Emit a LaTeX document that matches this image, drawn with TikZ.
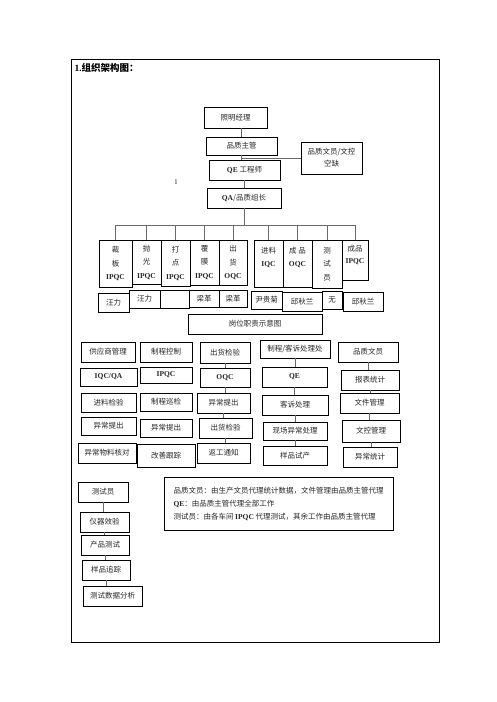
\documentclass[tikz,border=0pt]{standalone}
\usepackage{fontspec}
\setmainfont{Noto Sans CJK SC}
\newfontfamily\latinfont{Liberation Serif}
\newcommand{\en}[1]{{\latinfont\bfseries #1}}
\usepackage{tikz}
\usetikzlibrary{calc}
\definecolor{linegray}{RGB}{105, 105, 105}

\begin{document}
\begin{tikzpicture}[x=1pt, y=-1pt,
    box/.style={draw, line width=0.8pt, inner sep=0pt, align=center, text=black!85, font=\fontsize{7.5}{13.5}\selectfont},
    boxsize/.style 2 args={minimum width=#1pt, minimum height=#2pt},
    link/.style={draw=linegray, line width=0.9pt}]
    \useasboundingbox (0,0) rectangle (496,702);

    % Frame and title
    \draw[line width=0.9pt] (71,59) rectangle (439,642);
    \node[anchor=west, font=\fontsize{9.5}{11}\selectfont\bfseries] (title) at (71,68) {\en{1.}组织架构图：};

    % Management chain
    \node[box, boxsize={63}{21}] (mgr) at (235.5,117.5) {照明经理};
    \node[box, boxsize={71}{18}] (sup) at (241.5,146) {品质主管};
    \node[box, boxsize={61}{32}, font=\fontsize{7.5}{12}\selectfont] (clerk) at (331.5,158) {品质文员/文控\\空缺};
    \node[box, boxsize={71}{20}] (qe) at (244.5,170) {\en{QE} 工程师};
    \node[box, boxsize={74}{20}] (qa) at (244,198) {\en{QA}/品质组长};
    \node[font=\fontsize{7}{8}\selectfont] (tick) at (176,182) {\latinfont l};
    \draw[link] (sup.north) -- (sup.north |- mgr.south);
    \draw[link] (sup.south) -- (sup.south |- qe.north);
    \draw[link] (clerk.west) -- (clerk.west -| sup.south);
    \draw[link] (qe.south) -- (qe.south |- qa.north);

    % Stations
    \node[box, boxsize={33}{47}] (cut) at (115.5,263.5) {裁\\板\\\en{IPQC}};
    \node[box, boxsize={29}{44}] (pol) at (146.5,262) {抛\\光\\\en{IPQC}};
    \node[box, boxsize={29}{46}] (dot) at (175.5,263) {打\\点\\\en{IPQC}};
    \node[box, boxsize={29}{45}] (film) at (204.5,262.5) {覆\\膜\\\en{IPQC}};
    \node[box, boxsize={28}{45}] (ship) at (233,262.5) {出\\货\\\en{OQC}};
    \node[box, boxsize={29}{47}] (iqc) at (268.5,263.5) {进料\\\en{IQC}\\\mbox{}};
    \node[box, boxsize={29}{47}] (fqc) at (297.5,263.5) {成 品\\\en{OQC}\\\mbox{}};
    \node[box, boxsize={30}{48}] (tst) at (327,264) {测\\试\\员};
    \node[box, boxsize={26}{40}, font=\fontsize{7.5}{12}\selectfont] (fip) at (355,260) {成品\\\en{IPQC}\\\mbox{}};
    \coordinate (bus) at (244,225);
    \draw[link] (qa.south) -- (qa.south |- bus);
    \draw[link] (cut.north |- bus) -- (fip.north |- bus);
    \foreach \n in {cut,pol,dot,film,ship,iqc,fqc,tst,fip}
        \draw[link] (\n.north |- bus) -- (\n.north);

    % Names
    \node[box, boxsize={31}{19}] (n1) at (113.5,302.5) {汪力};
    \node[box, boxsize={31}{18}] (n2) at (144.5,299) {汪力};
    \node[box, boxsize={29}{18}] (n3) at (174.5,299) {};
    \node[box, boxsize={30}{17}] (n4) at (204,298.5) {梁革};
    \node[box, boxsize={28}{17}] (n5) at (233,298.5) {梁革};
    \node[box, boxsize={31}{18}] (n6) at (266.5,300) {尹贵菊};
    \node[box, boxsize={40}{19}] (n7) at (302,301.5) {邱秋兰};
    \node[box, boxsize={20}{18}] (n8) at (332,300) {无};
    \node[box, boxsize={40}{19}] (n9) at (363,301.5) {邱秋兰};
    \node[box, boxsize={134}{20}] (cap) at (255,324) {岗位职责示意图};

    % Duties
    \node[box, boxsize={54}{20}] (s1) at (108,352) {供应商管理};
    \node[box, boxsize={57}{18}] (s2) at (108.5,377) {\en{IQC/QA}};
    \node[box, boxsize={55}{19}] (s3) at (108.5,402.5) {进料检验};
    \node[box, boxsize={55}{18}] (s4) at (108.5,426) {异常提出};
    \node[box, boxsize={58}{20}] (s5) at (107,453) {异常物料核对};

    \node[box, boxsize={52}{20}] (p1) at (166,352) {制程控制};
    \node[box, boxsize={52}{16}] (p2) at (166,375) {\en{IPQC}};
    \node[box, boxsize={52}{18}] (p3) at (166,402) {制程巡检};
    \node[box, boxsize={52}{18}] (p4) at (166,428) {异常提出};
    \node[box, boxsize={58}{23}] (p5) at (166,455.5) {改善跟踪};

    \node[box, boxsize={50}{21}] (o1) at (225,352.5) {出货检验};
    \node[box, boxsize={50}{19}] (o2) at (225,377.5) {\en{OQC}};
    \node[box, boxsize={53}{20}] (o3) at (223.5,403) {异常提出};
    \node[box, boxsize={53}{20}] (o4) at (225.5,428) {出货检验};
    \node[box, boxsize={53}{20}] (o5) at (223.5,453) {返工通知};

    \node[box, boxsize={70}{18}] (e1) at (295,349) {制程/客诉处理处};
    \node[box, boxsize={65}{20}] (e2) at (294.5,377) {\en{QE}};
    \node[box, boxsize={66}{20}] (e3) at (295,405) {客诉处理};
    \node[box, boxsize={64}{18}] (e4) at (295,431) {现场异常处理};
    \node[box, boxsize={64}{19}] (e5) at (295,455.5) {样品试产};

    \node[box, boxsize={60}{20}] (c1) at (368,352) {品质文员};
    \node[box, boxsize={58}{20}] (c2) at (370,380) {报表统计};
    \node[box, boxsize={59}{20}] (c3) at (369.5,403) {文件管理};
    \node[box, boxsize={58}{22}] (c4) at (371,431) {文控管理};
    \node[box, boxsize={54}{20}] (c5) at (370,457) {异常统计};

    \node[box, boxsize={50}{20}] (t1) at (103,492) {测试员};
    \node[box, boxsize={49}{20}] (t2) at (104.5,522) {仪器效验};
    \node[box, boxsize={48}{20}] (t3) at (105,545) {产品测试};
    \node[box, boxsize={48}{20}] (t4) at (106,570) {样品追踪};
    \node[box, boxsize={59}{20}] (t5) at (112.5,596) {测试数据分析};

    \foreach \a/\b in {o1/o2, o2/o3, o3/o4, o4/o5, e1/e2, e2/e3, e3/e4, e4/e5,
                       c1/c2, c2/c3, c3/c4, c4/c5, t1/t2, t2/t3, t3/t4, t4/t5}
        \draw[link] (\a.south) -- (\a.south |- \b.north);

    % Notes
    \node[box, boxsize={229}{53}, align=left, font=\fontsize{7.5}{13}\selectfont] (note) at (278.5,503.5)
        {品质文员：由生产文员代理统计数据，文件管理由品质主管代理\\
         \en{QE}：由品质主管代理全部工作\\
         测试员：由各车间 \en{IPQC} 代理测试，其余工作由品质主管代理};
\end{tikzpicture}
\end{document}
